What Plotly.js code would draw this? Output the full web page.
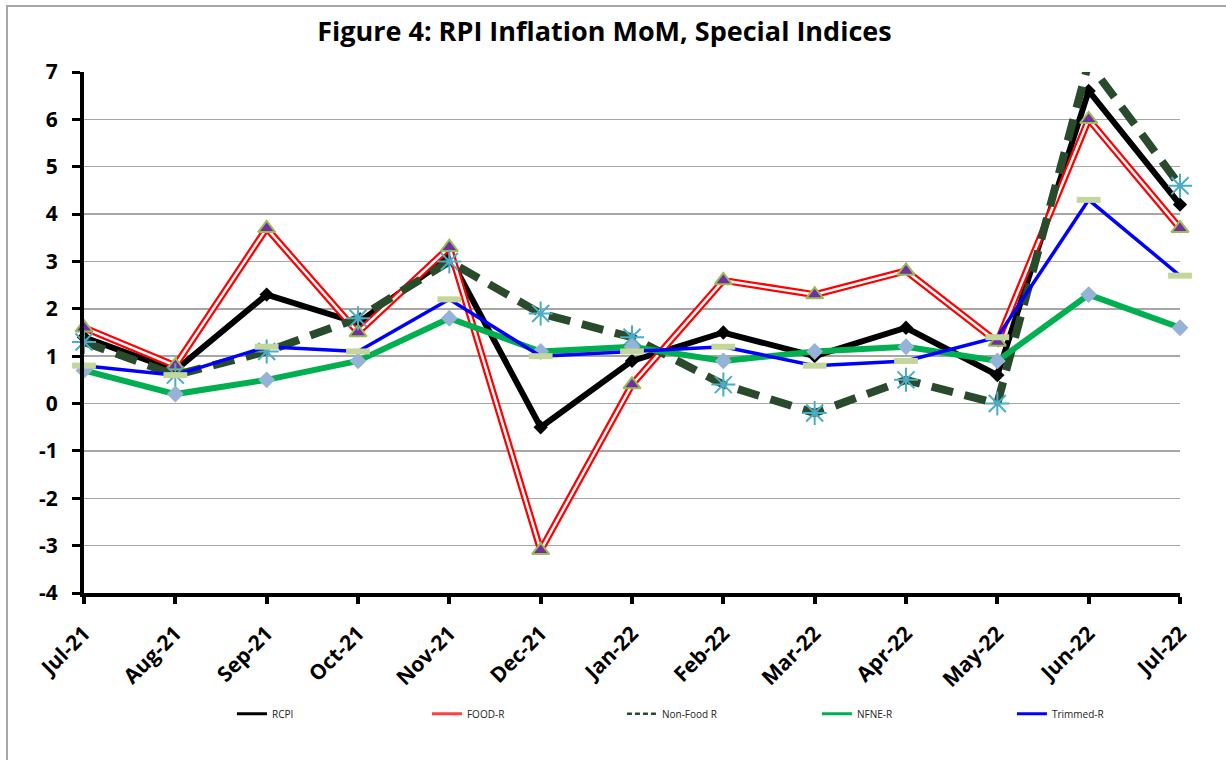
<!DOCTYPE html>
<html><head><meta charset="utf-8">
<script src="https://cdn.plot.ly/plotly-3.0.1.min.js"></script>
<style>
html,body{margin:0;padding:0;background:#fff;overflow:hidden;}
#frame{position:absolute;left:6px;top:5px;width:1260px;height:800px;border-left:2px solid #A6A6A6;border-top:2px solid #A6A6A6;}
#chart{position:absolute;left:0;top:0;width:1226px;height:760px;}
</style></head><body>
<div id="frame"></div><div id="chart"></div>
<script>
const months = ['Jul-21','Aug-21','Sep-21','Oct-21','Nov-21','Dec-21','Jan-22','Feb-22','Mar-22','Apr-22','May-22','Jun-22','Jul-22'];
const rcpi     = [1.4, 0.7, 2.3, 1.7, 3.1, -0.5, 0.9, 1.5, 1.0, 1.6, 0.6, 6.6, 4.2];
const foodR    = [1.6, 0.8, 3.7, 1.5, 3.3, -3.1, 0.4, 2.6, 2.3, 2.8, 1.3, 6.0, 3.7];
const nonFoodR = [1.3, 0.6, 1.1, 1.8, 3.0, 1.9, 1.4, 0.4, -0.2, 0.5, 0.0, 7.2, 4.6];
const nfneR    = [0.7, 0.2, 0.5, 0.9, 1.8, 1.1, 1.2, 0.9, 1.1, 1.2, 0.9, 2.3, 1.6];
const trimmedR = [0.8, 0.6, 1.2, 1.1, 2.2, 1.0, 1.1, 1.2, 0.8, 0.9, 1.4, 4.3, 2.7];
const seriesNames = ['RCPI', 'FOOD-R', 'Non-Food R', 'NFNE-R', 'Trimmed-R'];
const yTickVals = [-4, -3, -2, -1, 0, 1, 2, 3, 4, 5, 6, 7];
const yTickText = ['-4', '-3', '-2', '-1', '0', '1', '2', '3', '4', '5', '6', '7'];
const titleText = 'Figure 4: RPI Inflation MoM, Special Indices';

const FONT = 'Open Sans, Noto Sans, sans-serif';

const traces = [
  {x: months, y: rcpi, name: seriesNames[0], mode: 'lines+markers', showlegend: false, cliponaxis: false,
   line: {color: '#000000', width: 6},
   marker: {symbol: 'diamond', size: 11, color: '#000000'}},
  {x: months, y: foodR, name: seriesNames[1], mode: 'lines', showlegend: false, cliponaxis: false,
   line: {color: '#FF0000', width: 7}},
  {x: months, y: foodR, name: seriesNames[1], mode: 'lines+markers', showlegend: false, cliponaxis: false,
   line: {color: '#FFFFFF', width: 2.5},
   marker: {symbol: 'triangle-up', size: 15, color: '#7030A0', line: {color: '#9BBB59', width: 2}}},
  {x: months, y: nonFoodR, name: seriesNames[2], mode: 'lines', showlegend: false, cliponaxis: true,
   line: {color: '#2A4A2C', width: 8, dash: '22px,12px'}},
  {x: months, y: nonFoodR, name: seriesNames[2], mode: 'markers', showlegend: false, cliponaxis: false,
   marker: {symbol: 'asterisk-open', size: 20, color: '#4BACC6', line: {color: '#4BACC6', width: 2}}},
  {x: months, y: nfneR, name: seriesNames[3], mode: 'lines+markers', showlegend: false, cliponaxis: false,
   line: {color: '#00B050', width: 6},
   marker: {symbol: 'diamond', size: 13, color: '#95B3D7'}},
  {x: months, y: trimmedR, name: seriesNames[4], mode: 'lines+markers', showlegend: false, cliponaxis: false,
   line: {color: '#0000FF', width: 3.5},
   marker: {symbol: 'line-ew-open', size: 17, color: '#C3D69B', line: {color: '#C3D69B', width: 6}}},
  // legend entries
  {x: [null], y: [null], name: seriesNames[0], mode: 'lines', line: {color: '#000000', width: 3}},
  {x: [null], y: [null], name: seriesNames[1], mode: 'lines', line: {color: '#FF4040', width: 3}},
  {x: [null], y: [null], name: seriesNames[2], mode: 'lines', line: {color: '#2A4A2C', width: 2.5, dash: '5px,3px'}},
  {x: [null], y: [null], name: seriesNames[3], mode: 'lines', line: {color: '#00B050', width: 3}},
  {x: [null], y: [null], name: seriesNames[4], mode: 'lines', line: {color: '#0000FF', width: 3}}
];

const layout = {
  width: 1226, height: 760,
  paper_bgcolor: 'rgba(0,0,0,0)', plot_bgcolor: 'rgba(0,0,0,0)',
  margin: {l: 84, r: 46, t: 72, b: 167, pad: 0},
  font: {family: FONT, color: '#000000'},
  title: {text: titleText, xref: 'container', yref: 'container', x: 0.493, xanchor: 'center',
          y: 0.958, yanchor: 'middle', font: {family: FONT, size: 27, weight: 'bold', color: '#000000'}},
  xaxis: {type: 'category', categoryorder: 'array', categoryarray: months, range: [0, 12],
          showline: true, linecolor: '#000000', linewidth: 4, ticks: 'outside', ticklen: 7, tickwidth: 4,
          tickcolor: '#000000', tickangle: -45, showgrid: false, zeroline: false, ticklabelstandoff: 9,
          tickfont: {family: FONT, size: 21, weight: 'bold', color: '#000000'}},
  yaxis: {range: [-4, 7], tickvals: yTickVals, ticktext: yTickText, showline: true, linecolor: '#000000', linewidth: 4,
          ticks: 'outside', ticklen: 8, tickwidth: 3, tickcolor: '#000000', ticklabelstandoff: 10,
          showgrid: true, gridcolor: '#A6A6A6', gridwidth: 1.5, zeroline: false,
          tickfont: {family: FONT, size: 21, weight: 'bold', color: '#000000'}},
  legend: {orientation: 'h', xref: 'paper', yref: 'paper', x: 0.135, xanchor: 'left', y: -0.232, yanchor: 'middle',
           entrywidth: 150, font: {family: FONT, size: 10, color: '#222222'}, bgcolor: 'rgba(0,0,0,0)'},
  showlegend: true
};

Plotly.newPlot('chart', traces, layout, {displayModeBar: false, staticPlot: true});
</script>
</body></html>
